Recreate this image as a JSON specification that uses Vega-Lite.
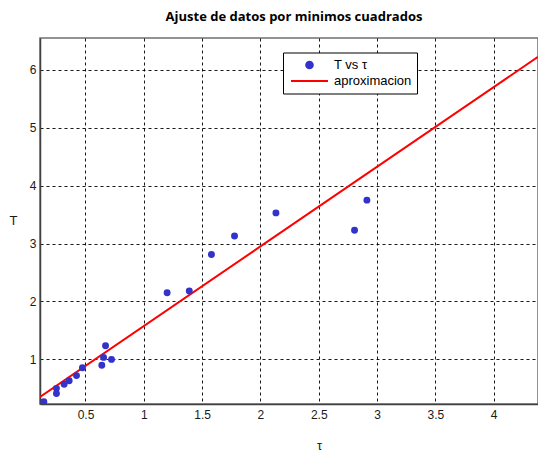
{
  "$schema": "https://vega.github.io/schema/vega-lite/v6.json",
  "autosize": "none",
  "width": 498,
  "height": 366,
  "padding": {"left": 40, "top": 38, "right": 0, "bottom": 47},
  "background": "#ffffff",
  "title": {
    "text": "Ajuste de datos por minimos cuadrados",
    "font": "Open Sans",
    "fontSize": 13,
    "fontWeight": "bold",
    "color": "#000000",
    "anchor": "middle",
    "frame": "group",
    "dx": 5,
    "offset": 14
  },
  "config": {
    "view": {"stroke": "#707070", "strokeWidth": 1.5},
    "axis": {
      "labelFont": "Liberation Sans",
      "labelFontSize": 12,
      "labelColor": "#1a1a1a",
      "titleFont": "Liberation Sans",
      "titleFontSize": 13,
      "titleFontWeight": "normal",
      "titleColor": "#1a1a1a",
      "grid": true,
      "gridColor": "#000000",
      "gridDash": [3, 3],
      "gridWidth": 1,
      "gridOpacity": 0.9,
      "domainColor": "#404040",
      "domainWidth": 1.5,
      "ticks": false
    }
  },
  "datasets": {
    "puntos": [
      {"tau": 0.143, "T": 0.27, "serie": "T vs τ"},
      {"tau": 0.251, "T": 0.50, "serie": "T vs τ"},
      {"tau": 0.251, "T": 0.41, "serie": "T vs τ"},
      {"tau": 0.317, "T": 0.57, "serie": "T vs τ"},
      {"tau": 0.36, "T": 0.63, "serie": "T vs τ"},
      {"tau": 0.423, "T": 0.72, "serie": "T vs τ"},
      {"tau": 0.474, "T": 0.855, "serie": "T vs τ"},
      {"tau": 0.64, "T": 0.90, "serie": "T vs τ"},
      {"tau": 0.655, "T": 1.035, "serie": "T vs τ"},
      {"tau": 0.672, "T": 1.235, "serie": "T vs τ"},
      {"tau": 0.723, "T": 1.0, "serie": "T vs τ"},
      {"tau": 1.20, "T": 2.15, "serie": "T vs τ"},
      {"tau": 1.39, "T": 2.18, "serie": "T vs τ"},
      {"tau": 1.58, "T": 2.81, "serie": "T vs τ"},
      {"tau": 1.778, "T": 3.13, "serie": "T vs τ"},
      {"tau": 2.133, "T": 3.53, "serie": "T vs τ"},
      {"tau": 2.807, "T": 3.23, "serie": "T vs τ"},
      {"tau": 2.913, "T": 3.75, "serie": "T vs τ"}
    ],
    "recta": [
      {"tau": 0.11, "T": 0.352, "serie": "aproximacion"},
      {"tau": 4.38, "T": 6.224, "serie": "aproximacion"}
    ]
  },
  "encoding": {
    "x": {
      "field": "tau",
      "type": "quantitative",
      "scale": {"domain": [0.11, 4.38], "nice": false, "zero": false},
      "axis": {
        "title": "τ",
        "values": [0.5, 1, 1.5, 2, 2.5, 3, 3.5, 4],
        "format": "~g",
        "labelPadding": 5,
        "titleX": 279,
        "titleY": 41,
        "titleAngle": 0,
        "titleAlign": "center",
        "titleBaseline": "middle"
      }
    },
    "y": {
      "field": "T",
      "type": "quantitative",
      "scale": {"domain": [0.23, 6.55], "nice": false, "zero": false},
      "axis": {
        "title": "T",
        "values": [1, 2, 3, 4, 5, 6],
        "format": "~g",
        "labelPadding": 4,
        "titleX": -27,
        "titleY": 182,
        "titleAngle": 0,
        "titleAlign": "center",
        "titleBaseline": "middle"
      }
    },
    "color": {
      "field": "serie",
      "type": "nominal",
      "scale": {"domain": ["T vs τ", "aproximacion"], "range": ["#3333cc", "#ff0000"]},
      "legend": {
        "orient": "none",
        "legendX": 243,
        "legendY": 14.5,
        "title": null,
        "direction": "vertical",
        "strokeColor": "#000000",
        "fillColor": "#ffffff",
        "padding": 5,
        "labelFont": "Liberation Sans",
        "labelFontSize": 13,
        "labelColor": "#000000",
        "labelOffset": 5,
        "symbolOffset": 2,
        "clipHeight": 15,
        "rowPadding": 1,
        "encode": {
          "symbols": {
            "update": {
              "shape": {"signal": "datum.value === 'aproximacion' ? 'M-1,0H1' : 'M0,-0.18A0.18,0.18 0 1,1 0,0.18A0.18,0.18 0 1,1 0,-0.18Z'"},
              "size": {"value": 1369},
              "strokeWidth": {"value": 2},
              "stroke": {"signal": "datum.value === 'aproximacion' ? '#ff0000' : 'transparent'"},
              "fill": {"signal": "datum.value === 'aproximacion' ? 'transparent' : '#3333cc'"},
              "opacity": {"value": 1}
            }
          }
        }
      }
    }
  },
  "layer": [
    {
      "data": {"name": "recta"},
      "mark": {"type": "line", "strokeWidth": 2, "clip": true}
    },
    {
      "data": {"name": "puntos"},
      "mark": {"type": "point", "filled": true, "size": 48, "opacity": 1, "clip": true}
    }
  ]
}
